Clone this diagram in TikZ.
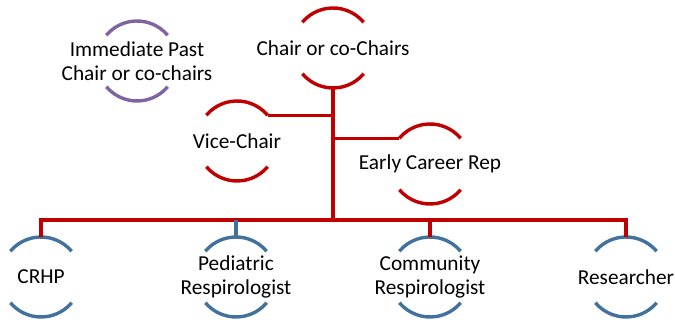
\documentclass[tikz,border=0pt]{standalone}
\usepackage{fontspec}
\setmainfont{Carlito}
\definecolor{boardred}{HTML}{C00000}
\definecolor{boardpurple}{HTML}{8064A2}
\definecolor{boardblue}{HTML}{41719C}
\tikzset{
  ring/.style={circle, minimum size=80, inner sep=0pt, outer sep=0pt},
  caption/.style={align=center, font=\fontsize{21.3}{24}\selectfont},
  link/.style={line width=3.4pt},
}
\newcommand{\ringarcs}[2]{%
  \draw[link, #2] (#1.40) arc (40:140:40) (#1.220) arc (220:320:40);}
\begin{document}
\begin{tikzpicture}[x=1pt, y=1pt]
		\useasboundingbox (0,0) rectangle (675,320);

		\node[ring, label={[caption]center:Immediate Past\\Chair or co-chairs}] (past) at (137,259) {};
		\node[ring, label={[caption]center:Chair or co-Chairs}] (chair) at (333,272) {};
		\node[ring, label={[caption]center:Vice-Chair}] (vice) at (237,179) {};
		\node[ring, label={[caption]center:Early Career Rep}] (early) at (430,156) {};
		\node[ring, label={[caption]center:CRHP}] (crhp) at (41,43) {};
		\node[ring, label={[caption]center:Pediatric\\Respirologist}] (ped) at (236,43) {};
		\node[ring, label={[caption]center:Community\\Respirologist}] (comm) at (430,43) {};
		\node[ring, label={[caption]center:Researcher}] (res) at (626,43) {};
		\coordinate (bus) at (333,100);

		\ringarcs{past}{boardpurple}
		\ringarcs{chair}{boardred}
		\ringarcs{vice}{boardred}
		\ringarcs{early}{boardred}
		\ringarcs{crhp}{boardblue}
		\ringarcs{ped}{boardblue}
		\ringarcs{comm}{boardblue}
		\ringarcs{res}{boardblue}

		\draw[link, boardred] (chair.south) -- (bus);
		\draw[link, boardred] (vice.40) -- (vice.40 -| bus);
		\draw[link, boardred] (early.140) -- (early.140 -| bus);
		\draw[link, boardred] (crhp.north) |- (bus) -| (res.north);
		\draw[link, boardred] (comm.north) -- (comm.north |- bus);
		\draw[link, boardblue] (ped.north) -- (ped.north |- bus);
\end{tikzpicture}
\end{document}
